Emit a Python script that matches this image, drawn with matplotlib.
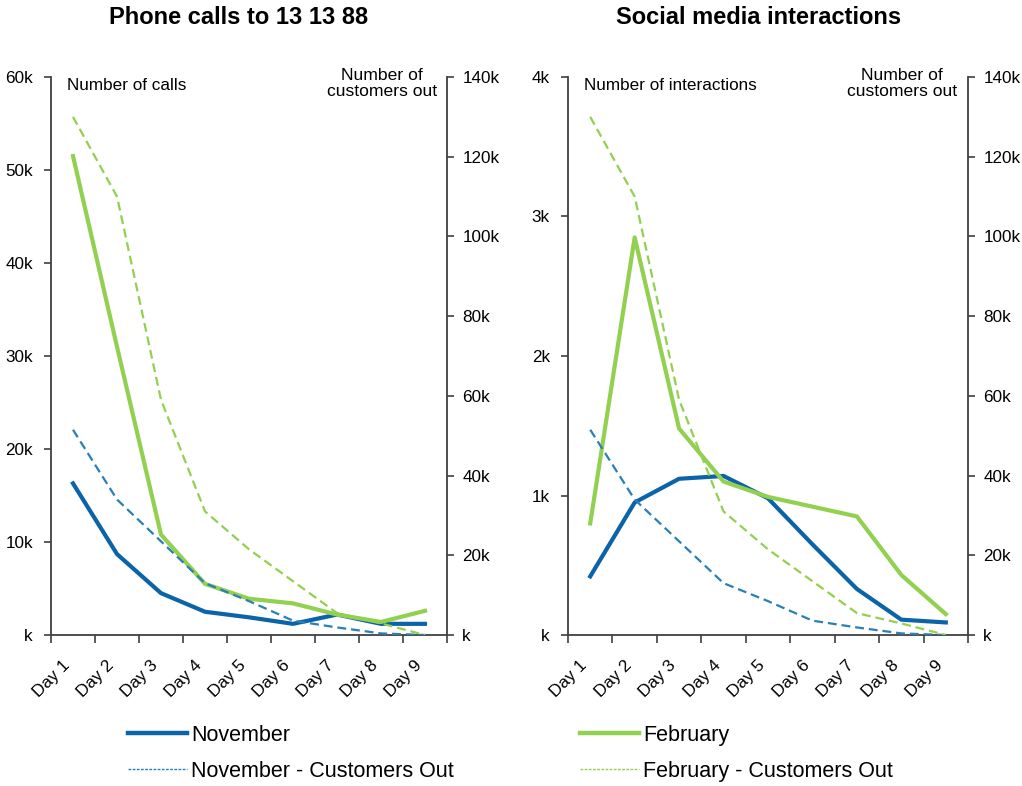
import matplotlib
matplotlib.use("Agg")
import matplotlib.pyplot as plt
from matplotlib.lines import Line2D
from matplotlib.ticker import FuncFormatter, FixedLocator

plt.rcParams['font.family'] = ['Liberation Sans', 'DejaVu Sans']

days = ['Day 1', 'Day 2', 'Day 3', 'Day 4', 'Day 5', 'Day 6', 'Day 7', 'Day 8', 'Day 9']

# Phone calls to 13 13 88
calls_nov = [16300, 8700, 4500, 2500, 1900, 1200, 2200, 1200, 1200]
calls_feb = [51500, 31000, 10800, 5500, 3900, 3400, 2200, 1400, 2600]

# Social media interactions
social_nov = [420, 950, 1120, 1140, 980, 650, 330, 110, 90]
social_feb = [800, 2850, 1480, 1100, 990, 920, 850, 430, 150]

# Customers out (secondary axis, shared by both panels)
out_nov = [51500, 34000, 23500, 13000, 8500, 3600, 1900, 400, 0]
out_feb = [130000, 110000, 59000, 31000, 21500, 13500, 5500, 2900, 0]

BLUE = '#0b63a8'
BLUE_DASH = '#2a7fb5'
GREEN = '#92d050'
SPINE = '#404040'


def kfmt(v, pos):
    v = int(round(v / 1000))
    return 'k' if v == 0 else f'{v}k'


def panel(rect, title, title_x, primary_nov, primary_feb, ymax, ystep, ylabel, fmt):
    ax = fig.add_axes(rect)
    ax2 = ax.twinx()
    x = list(range(len(days)))

    ax.plot(x, primary_nov, color=BLUE, lw=3.0, solid_joinstyle='round', zorder=3)
    ax.plot(x, primary_feb, color=GREEN, lw=3.0, solid_joinstyle='round', zorder=3)
    ax2.plot(x, out_nov, color=BLUE_DASH, lw=1.6, ls=(0, (4, 2.2)))
    ax2.plot(x, out_feb, color=GREEN, lw=1.6, ls=(0, (4, 2.2)))

    ax.set_xlim(-0.5, len(days) - 0.5)
    ax.set_ylim(0, ymax)
    ax2.set_ylim(0, 140000)
    ax.set_yticks([i * ystep for i in range(int(ymax / ystep) + 1)])
    ax2.set_yticks(range(0, 140001, 20000))
    ax.yaxis.set_major_formatter(FuncFormatter(fmt))
    ax2.yaxis.set_major_formatter(FuncFormatter(kfmt))

    # category boundaries carry the ticks, labels sit at category centres
    ax.xaxis.set_major_locator(FixedLocator([i - 0.5 for i in range(len(days) + 1)]))
    ax.xaxis.set_major_formatter(FuncFormatter(lambda v, p: ''))
    ax.xaxis.set_minor_locator(FixedLocator(x))
    ax.set_xticklabels(days, minor=True, rotation=45, ha='right', fontsize=12.3)
    ax.tick_params(axis='x', which='minor', length=0, pad=16)
    ax.tick_params(axis='x', which='major', length=6, width=1.2, color=SPINE, direction='out')
    ax.tick_params(axis='y', length=5, width=1.2, color=SPINE, labelsize=12.3, pad=8)
    ax2.tick_params(axis='y', length=5, width=1.2, color=SPINE, labelsize=12.3, pad=6)

    for a in (ax, ax2):
        a.spines['top'].set_visible(False)
        for s in a.spines.values():
            s.set_color(SPINE)
            s.set_linewidth(1.3)
    ax.spines['right'].set_visible(False)
    ax2.spines['left'].set_visible(False)
    ax2.spines['bottom'].set_visible(False)

    ax.text(0.04, 0.985, ylabel, transform=ax.transAxes, fontsize=12.3,
            ha='left', va='center')
    ax.text(0.835, 0.988, 'Number of\ncustomers out', transform=ax.transAxes,
            fontsize=12.6, ha='center', va='center', linespacing=1.12)
    ax.set_title(title, fontsize=17, fontweight='bold', pad=38, x=title_x)
    return ax


fig = plt.figure(figsize=(10.22, 7.86), dpi=100)
fig.patch.set_facecolor('white')

panel([51 / 1022, 1 - 635 / 786, 396 / 1022, 558 / 786], 'Phone calls to 13 13 88', 0.473,
      calls_nov, calls_feb, 60000, 10000, 'Number of calls', kfmt)
panel([568 / 1022, 1 - 635 / 786, 400 / 1022, 558 / 786], 'Social media interactions', 0.477,
      social_nov, social_feb, 4000, 1000, 'Number of interactions', kfmt)

h_nov = Line2D([], [], color=BLUE, lw=3.2)
h_nov_out = Line2D([], [], color=BLUE_DASH, lw=1.0, ls=(0, (2, 1)))
h_feb = Line2D([], [], color=GREEN, lw=3.2)
h_feb_out = Line2D([], [], color=GREEN, lw=1.0, ls=(0, (2, 1)))

common = dict(frameon=False, fontsize=15.5, handlelength=2.75, handletextpad=0.18,
              labelspacing=0.68, borderpad=0, borderaxespad=0, loc='upper left')
fig.legend([h_nov, h_nov_out], ['November', 'November - Customers Out'],
           bbox_to_anchor=(128 / 1022, 1 - 725 / 786), **common)
fig.legend([h_feb, h_feb_out], ['February', 'February - Customers Out'],
           bbox_to_anchor=(580 / 1022, 1 - 725 / 786), **common)

fig.savefig('out.png', dpi=100)
